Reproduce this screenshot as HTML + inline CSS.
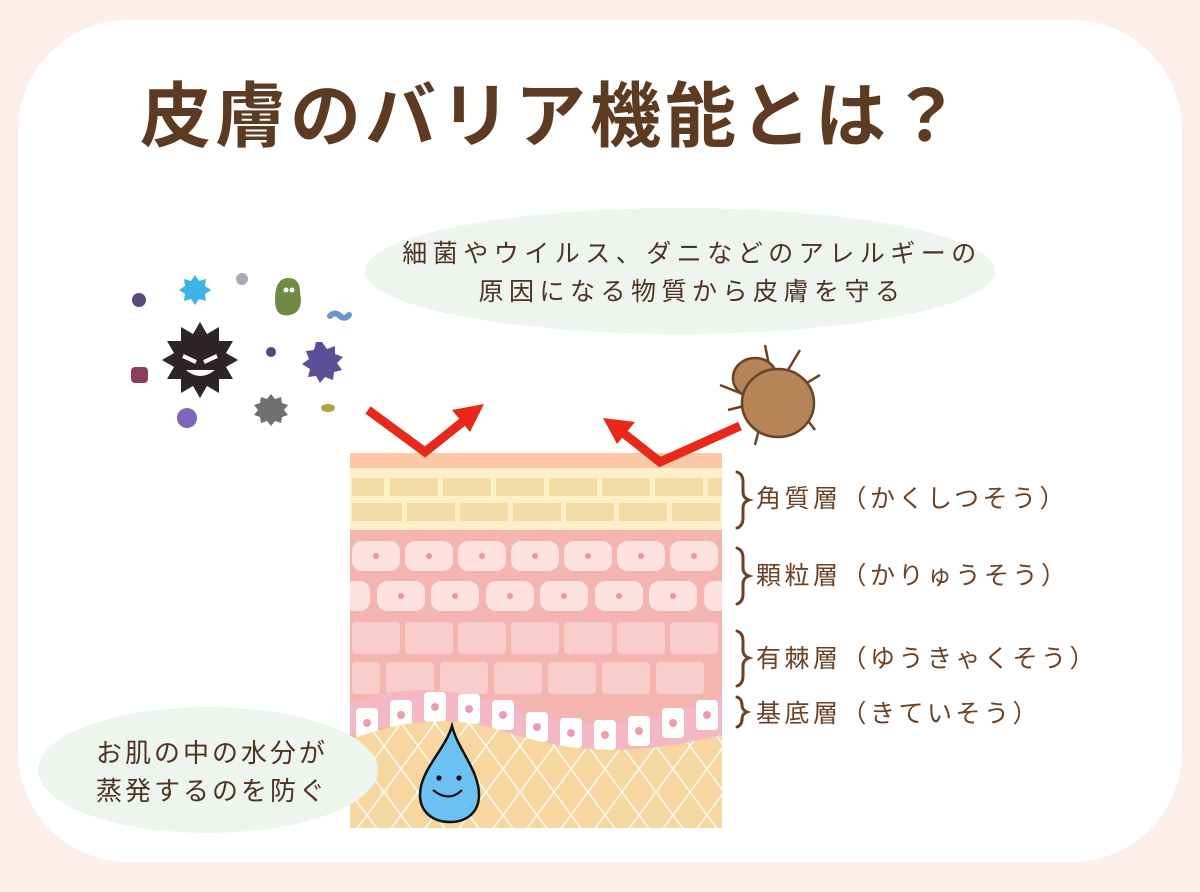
<!DOCTYPE html>
<html><head><meta charset="utf-8"><style>
html,body{margin:0;padding:0;background:#fdeee8;}
body{width:1200px;height:892px;position:relative;overflow:hidden;font-family:"Liberation Sans","Noto Sans CJK JP",sans-serif;}
.panel{position:absolute;left:18px;top:20px;width:1164px;height:842px;background:#fff;border-radius:110px;}
svg{position:absolute;left:0;top:0;}
</style></head><body>
<div class="panel"></div>
<svg width="1200" height="892" viewBox="0 0 1200 892" font-family="Liberation Sans, Noto Sans CJK JP, sans-serif">
<defs>
<pattern id="dia" x="350" y="700" width="34" height="46" patternUnits="userSpaceOnUse">
<rect width="34" height="46" fill="#f8d6a0"/>
<path d="M0 0 L34 46 M34 0 L0 46" stroke="#fff" stroke-width="1.6" opacity="0.85"/>
</pattern>
<clipPath id="sk"><rect x="350" y="453" width="372" height="375"/></clipPath>
</defs>
<text x="140" y="141" font-size="71" font-weight="bold" fill="#5d3a22" letter-spacing="4">皮膚のバリア機能とは？</text>

<ellipse cx="680" cy="271" rx="315" ry="63" fill="#eef5ee"/>
<text x="692" y="262" font-size="25" fill="#4f3222" text-anchor="middle" letter-spacing="5.5">細菌やウイルス、ダニなどのアレルギーの</text>
<text x="692" y="300" font-size="25" fill="#4f3222" text-anchor="middle" letter-spacing="5.5">原因になる物質から皮膚を守る</text>

<!-- skin -->
<g clip-path="url(#sk)">
<rect x="350" y="453" width="372" height="375" fill="#f4b5b0"/>
<rect x="350" y="453" width="372" height="15" fill="#fcc8a6"/>
<rect x="350" y="468" width="372" height="62" fill="#fdf0c8"/>
<g fill="#f3dba6">
<rect x="352" y="478" width="32" height="18"/><rect x="390" y="478" width="48" height="18"/><rect x="443" y="478" width="48" height="18"/><rect x="496" y="478" width="48" height="18"/><rect x="549" y="478" width="48" height="18"/><rect x="602" y="478" width="48" height="18"/><rect x="655" y="478" width="48" height="18"/><rect x="708" y="478" width="14" height="18"/>
<rect x="352" y="503" width="50" height="18"/><rect x="407" y="503" width="48" height="18"/><rect x="460" y="503" width="48" height="18"/><rect x="513" y="503" width="48" height="18"/><rect x="566" y="503" width="48" height="18"/><rect x="619" y="503" width="48" height="18"/><rect x="672" y="503" width="48" height="18"/>
</g>
<g fill="#fde1df">
<rect x="352" y="541" width="48" height="30" rx="10"/><rect x="405" y="541" width="48" height="30" rx="10"/><rect x="458" y="541" width="48" height="30" rx="10"/><rect x="511" y="541" width="48" height="30" rx="10"/><rect x="564" y="541" width="48" height="30" rx="10"/><rect x="617" y="541" width="48" height="30" rx="10"/><rect x="670" y="541" width="48" height="30" rx="10"/>
<rect x="340" y="581" width="30" height="30" rx="10"/><rect x="377" y="581" width="48" height="30" rx="10"/><rect x="431" y="581" width="48" height="30" rx="10"/><rect x="486" y="581" width="48" height="30" rx="10"/><rect x="540" y="581" width="48" height="30" rx="10"/><rect x="595" y="581" width="48" height="30" rx="10"/><rect x="649" y="581" width="48" height="30" rx="10"/><rect x="704" y="581" width="30" height="30" rx="10"/>
</g>
<g fill="#e89a9a"><circle cx="376" cy="556" r="3"/><circle cx="429" cy="556" r="3"/><circle cx="482" cy="556" r="3"/><circle cx="535" cy="556" r="3"/><circle cx="588" cy="556" r="3"/><circle cx="641" cy="556" r="3"/><circle cx="694" cy="556" r="3"/>
<circle cx="401" cy="596" r="3"/><circle cx="455" cy="596" r="3"/><circle cx="510" cy="596" r="3"/><circle cx="564" cy="596" r="3"/><circle cx="619" cy="596" r="3"/><circle cx="673" cy="596" r="3"/></g>
<g fill="#f8cdcb">
<rect x="352" y="622" width="48" height="32" rx="4"/><rect x="405" y="622" width="48" height="32" rx="4"/><rect x="458" y="622" width="48" height="32" rx="4"/><rect x="511" y="622" width="48" height="32" rx="4"/><rect x="564" y="622" width="48" height="32" rx="4"/><rect x="617" y="622" width="48" height="32" rx="4"/><rect x="670" y="622" width="48" height="32" rx="4"/>
<rect x="352" y="662" width="28" height="32" rx="4"/><rect x="386" y="662" width="48" height="32" rx="4"/><rect x="440" y="662" width="48" height="32" rx="4"/><rect x="494" y="662" width="48" height="32" rx="4"/><rect x="548" y="662" width="48" height="32" rx="4"/><rect x="602" y="662" width="48" height="32" rx="4"/><rect x="656" y="662" width="48" height="32" rx="4"/>
</g>
<path d="M350 705 C400 680 470 690 520 710 C580 730 650 730 722 695 L722 740 C650 760 580 760 520 740 C460 720 400 720 350 735Z" fill="#f3b8c4"/>
<g fill="#fff">
<rect x="356" y="708" width="22" height="30" rx="4"/><rect x="390" y="700" width="22" height="30" rx="4"/><rect x="424" y="692" width="22" height="30" rx="4"/><rect x="458" y="694" width="22" height="30" rx="4"/><rect x="492" y="700" width="22" height="30" rx="4"/><rect x="526" y="712" width="22" height="30" rx="4"/><rect x="560" y="718" width="22" height="30" rx="4"/><rect x="594" y="720" width="22" height="30" rx="4"/><rect x="628" y="716" width="22" height="30" rx="4"/><rect x="662" y="708" width="22" height="30" rx="4"/><rect x="696" y="700" width="22" height="30" rx="4"/>
</g>
<path d="M350 740 C400 720 450 715 500 730 C560 750 620 760 722 735 L722 830 L350 830Z" fill="url(#dia)"/>
<g fill="#eaa0ac"><circle cx="367" cy="723" r="4"/><circle cx="401" cy="715" r="4"/><circle cx="435" cy="707" r="4"/><circle cx="469" cy="709" r="4"/><circle cx="503" cy="715" r="4"/><circle cx="537" cy="727" r="4"/><circle cx="571" cy="733" r="4"/><circle cx="605" cy="735" r="4"/><circle cx="639" cy="731" r="4"/><circle cx="673" cy="723" r="4"/><circle cx="707" cy="715" r="4"/></g>
</g>

<!-- drop -->
<path d="M452 726 C445 750 420 770 420 795 C420 812 433 822 450 822 C467 822 479 812 479 795 C479 770 458 750 452 726Z" fill="#6cc1f3" stroke="#111" stroke-width="2.5"/>
<circle cx="439" cy="778" r="2.6" fill="#111"/><circle cx="459" cy="778" r="2.6" fill="#111"/>
<path d="M433 790 Q449 803 462 790" stroke="#111" stroke-width="2.2" fill="none"/>

<!-- arrows -->
<polyline points="368,410 425,452 465,420" fill="none" stroke="#e8281a" stroke-width="9" stroke-linejoin="miter"/>
<polygon points="484,404 452,410 470,432" fill="#e8281a"/>
<polyline points="740,426 660,462 622,432" fill="none" stroke="#e8281a" stroke-width="9"/>
<polygon points="603,418 635,422 617,444" fill="#e8281a"/>

<!-- labels -->
<g fill="none" stroke="#6b4226" stroke-width="3" stroke-linecap="round">
<path d="M737 472 Q743 474 743 482 L743 492 Q743 498 749 500 Q743 502 743 508 L743 518 Q743 526 737 528"/>
<path d="M737 548 Q743 550 743 558 L743 568 Q743 574 749 576 Q743 578 743 584 L743 594 Q743 602 737 604"/>
<path d="M737 631 Q743 633 743 641 L743 650 Q743 656 749 658 Q743 660 743 666 L743 676 Q743 684 737 686"/>
<path d="M737 697 Q742 699 742 705 Q742 710 747 712 Q742 714 742 719 Q742 725 737 727"/>
</g>
<g font-size="25" fill="#6b4226" letter-spacing="3.5">
<text x="756" y="507">角質層（かくしつそう）</text>
<text x="756" y="584">顆粒層（かりゅうそう）</text>
<text x="756" y="667">有棘層（ゆうきゃくそう）</text>
<text x="756" y="722">基底層（きていそう）</text>
</g>

<ellipse cx="208" cy="770" rx="170" ry="63" fill="#eef5ee"/>
<text x="212" y="762" font-size="26" fill="#4f3222" text-anchor="middle" letter-spacing="3">お肌の中の水分が</text>
<text x="212" y="800" font-size="26" fill="#4f3222" text-anchor="middle" letter-spacing="3">蒸発するのを防ぐ</text>

<!-- germs -->
<g>
<polygon points="200,322 207,334 219,327 219,341 233,341 226,353 238,360 226,367 233,379 219,379 219,393 207,386 200,398 193,386 181,393 181,379 167,379 174,367 162,360 174,353 167,341 181,341 181,327 193,334" fill="#2e2326"/>
<path d="M183 356 L196 362 M217 356 L204 362" stroke="#fff" stroke-width="4"/>
<path d="M186 370 Q200 382 215 370 Z" fill="#fff"/>
<polygon points="195,275 199,281 206,279 205,286 211,290 205,294 206,301 199,299 195,305 191,299 184,301 185,294 179,290 185,286 184,279 191,281" fill="#3fb3e6"/>
<circle cx="139" cy="300" r="7" fill="#5b4a7c"/>
<circle cx="242" cy="279" r="6" fill="#a6adb9"/>
<path d="M275 300 Q275 278 288 278 Q300 278 300 292 Q304 312 290 315 Q275 318 275 300Z" fill="#6f8a44"/>
<circle cx="286" cy="290" r="2.5" fill="#fff"/><circle cx="292" cy="290" r="2.5" fill="#fff"/>
<path d="M330 316 Q335 311 340 316 Q345 320 349 315" stroke="#6a97c6" stroke-width="6" fill="none" stroke-linecap="round"/>
<circle cx="271" cy="352" r="5" fill="#57457e"/>
<polygon points="322,342 327,349 335,346 335,354 343,357 337,363 342,370 334,372 333,380 325,377 320,383 316,376 308,377 310,369 302,364 309,359 306,351 314,350 316,342" fill="#5a4f99"/>
<polygon points="271,394 275,399 281,397 282,403 288,405 284,410 288,415 282,417 281,423 275,421 271,426 267,421 261,423 260,417 254,415 258,410 254,405 260,403 261,397 267,399" fill="#707070"/>
<rect x="131" y="367" width="17" height="16" rx="4" fill="#8a4058"/>
<circle cx="187" cy="418" r="10" fill="#7d66b8"/>
<ellipse cx="328" cy="408" rx="7" ry="4" fill="#b0a43a"/>
</g>

<!-- mite -->
<g stroke="#6b4226" stroke-width="2.5" fill="none">
<path d="M770 370 L765 345 M785 375 L800 350 M795 390 L820 375 M800 410 L815 430 M760 425 L755 445 M745 395 L720 385 M748 405 L728 410"/>
</g>
<ellipse cx="755" cy="378" rx="22" ry="20" fill="#b58558" stroke="#6b4226" stroke-width="2.5"/>
<ellipse cx="778" cy="403" rx="36" ry="34" fill="#b58558" stroke="#6b4226" stroke-width="2.5"/>
</svg>
</body></html>
